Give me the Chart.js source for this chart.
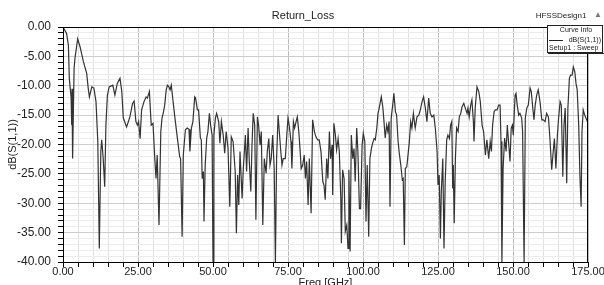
<!DOCTYPE html>
<html>
<head>
<meta charset="utf-8">
<script src="https://cdn.jsdelivr.net/npm/chart.js@4.4.1/dist/chart.umd.min.js"></script>
<style>
  html, body { margin: 0; padding: 0; background: #fff; }
</style>
</head>
<body>
<canvas id="rlChart" width="604" height="285"></canvas>
<script>
// frequency points (GHz)
const freqGHz = [
  0, 1.2, 1.8, 2.1, 2.4, 2.7, 2.9, 3.0, 3.2, 3.7, 4.0, 4.9, 5.7, 6.8, 7.9, 8.4, 8.8, 9.6, 10.3, 11.0,
  11.6, 12.1, 12.6, 12.9, 13.4, 13.9, 14.3, 14.8, 15.4, 16.6, 17.3, 18.1, 19.0, 19.6, 20.1, 21.2, 22.3, 23.2, 23.7, 24.3,
  24.8, 25.2, 25.7, 26.2, 27.0, 27.7, 28.1, 28.8,
  29.4, 30.0, 30.6, 31.0, 31.4, 32.0, 32.6, 33.0, 33.4, 33.9, 34.4, 34.8, 35.3, 35.7, 36.1, 36.7, 37.2, 38.0, 38.9, 39.2,
  39.7, 40.1, 40.8, 41.4, 42.0, 42.3, 42.8, 43.3, 43.9, 44.2, 44.8, 45.2, 45.8, 46.1, 46.4, 46.8, 47.0, 47.4, 47.9, 48.3,
  48.8, 49.2, 49.7, 50.0, 50.3, 50.8, 51.2, 51.9, 52.3, 52.8, 53.4, 53.9, 54.4, 55.0, 55.6, 56.1, 56.7, 57.4, 57.8,
  58.2, 58.6, 59.0, 59.7, 60.1, 60.8, 61.2, 61.7, 62.1, 62.6, 63.0, 63.4, 63.9, 64.3, 64.8, 65.2, 65.7, 66.1, 66.6, 67.1,
  67.7, 68.1, 68.6, 69.0, 69.4, 69.9, 70.4, 70.8, 71.2, 71.7, 72.1, 72.6, 73.0, 73.4, 74.1, 74.6, 75.0, 75.4, 76.0, 76.3,
  76.8, 77.2, 77.7, 78.1, 78.6, 79.0, 79.4, 79.9, 80.4, 80.8, 81.2, 81.7, 82.1, 82.7, 83.2, 83.8, 84.3, 84.9, 85.4, 86.0,
  86.6,
  87.0, 87.4, 87.9, 88.3, 88.8, 89.2, 89.7, 89.9, 90.3, 90.8, 91.2, 91.7, 92.1, 92.6, 92.8, 93.2, 93.7, 94.1, 94.6, 95.0,
  95.3, 95.7, 96.1, 96.6, 97.0, 97.4, 97.9, 98.3, 98.8, 99.2, 99.7, 100.1, 100.6, 101.0, 101.4, 101.9, 102.3, 102.8, 103.2, 103.7,
  104.1, 104.6, 105.0, 105.4, 106.1, 106.6, 107.0, 107.4, 107.9, 108.3, 108.7, 109.0, 109.4, 109.9, 110.3, 110.8, 111.2, 111.7, 112.1, 112.6,
  113.1, 113.4, 113.8, 114.1, 114.6, 115.0, 115.4, 115.9, 116.3, 116.8,
  117.4, 118.0, 118.6, 119.1, 119.7, 120.2, 120.8, 121.3, 121.9, 122.4, 123.0, 123.6, 124.1, 124.7, 125.0, 125.4, 125.8, 126.1, 126.6, 127.0,
  127.4, 127.9, 128.3, 128.8, 129.2, 129.6, 129.9, 130.1, 130.4, 130.8, 131.2, 131.7, 132.1, 132.6, 133.0, 133.6, 134.1, 134.7, 135.0, 135.4,
  135.9, 136.3, 136.8, 137.0, 137.4, 138.0, 138.6, 139.1, 139.7, 140.2, 140.8, 141.3, 141.9, 142.4, 142.8, 143.2, 143.7, 144.1, 144.7, 145.2,
  145.7, 146.0, 146.3, 146.7, 147.2, 147.7, 148.1, 148.6, 149.0, 149.4, 149.8, 150.1, 150.7, 151.0, 151.4, 151.9, 152.3, 152.9, 153.2, 153.7,
  154.1, 154.6, 155.1, 155.7, 156.1, 156.6, 157.0, 157.4, 157.9, 158.4, 159.0, 159.6, 160.1, 160.7, 161.2, 161.8, 162.3, 162.9, 163.4, 163.8,
  164.3, 164.8, 165.2, 165.7, 166.1, 166.6, 167.0, 167.4, 167.9, 168.3, 168.8, 169.2, 169.7, 170.1, 170.6, 171.0, 171.4, 171.9, 172.3, 172.7,
  173.0, 173.4, 173.9, 174.3, 174.8, 175.0
];

// dB(S(1,1)) at each frequency
const s11dB = [
  0, -1.1, -3.1, -8.7, -10.4, -12.0, -16.7, -10.5, -22.4, -7.0, -5.3, -2.0, -3.4, -5.9, -7.9, -10.4, -11.9, -10.2, -10.4, -12.7,
  -19.5, -37.7, -21.2, -19.2, -22.4, -27.2, -16.7, -11.6, -10.2, -9.9, -11.6, -9.6, -8.7, -11.0, -15.5, -17.0, -15.3, -13.0, -12.6, -16.1,
  -16.7, -16.1, -19.0, -14.1, -12.7, -11.9, -12.1, -11.0,
  -16.7, -16.4, -22.4, -25.8, -21.8, -33.7, -17.8, -15.5, -14.7, -13.3, -10.7, -9.9, -10.2, -10.7, -9.9, -12.7, -15.0, -18.4, -22.1, -22.4,
  -35.7, -21.8, -17.5, -17.2, -17.4, -21.2, -17.2, -16.1, -11.9, -12.1, -14.1, -14.1, -18.9, -19.2, -25.8, -24.6, -33.1, -23.5, -18.9, -17.8,
  -14.7, -16.7, -18.4, -40, -18.4, -15.5, -14.7, -16.1, -19.8, -16.1, -18.4, -21.5, -17.8, -20.6, -30.6, -18.7, -19.5, -24.6, -35.1,
  -25.2, -30.3, -21.2, -29.2, -24.1, -18.4, -24.6, -17.2, -22.9, -28.0, -20.1, -14.7, -16.7, -32.8, -15.3, -16.7, -20.1, -17.8, -33.7, -22.4,
  -24.9, -21.2, -19.0, -23.5, -22.4, -18.4, -24.1, -40, -22.4, -15.0, -17.8, -21.2, -23.5, -22.4, -22.4, -18.4, -15.5, -16.7, -19.5, -24.1,
  -16.1, -17.2, -16.1, -15.3, -17.8, -20.7, -24.1, -23.5, -21.8, -25.8, -22.9, -30.3, -22.4, -31.7, -15.8, -17.8, -18.7, -19.2, -19.2, -21.2,
  -26.3,
  -26.9, -29.4, -22.4, -25.8, -17.8, -22.4, -20.1, -28.6, -16.4, -18.4, -20.9, -19.0, -21.2, -29.2, -36.8, -24.3, -25.8, -34.8, -33.7, -37.7,
  -24.3, -38.2, -18.4, -22.4, -20.7, -26.3, -17.2, -21.2, -30.9, -30.9, -20.1, -18.1, -19.5, -33.1, -23.5, -35.7, -22.4, -20.7, -19.8, -19.0,
  -19.2, -17.2, -14.7, -13.8, -11.9, -13.6, -16.1, -18.9, -16.7, -17.8, -16.1, -30.6, -15.5, -13.3, -11.3, -14.4, -15.0, -19.5, -21.5, -23.5,
  -26.0, -25.8, -37.1, -24.1, -23.8, -21.8, -19.8, -16.1, -17.2, -14.7,
  -17.2, -15.3, -15.0, -14.1, -12.7, -11.9, -13.9, -16.1, -12.1, -14.7, -15.3, -15.0, -17.2, -21.2, -26.9, -25.2, -36.0, -28.0, -22.4, -37.7,
  -26.3, -19.2, -18.4, -19.0, -16.7, -16.1, -27.5, -23.5, -33.4, -22.4, -17.2, -17.8, -15.3, -14.7, -13.6, -13.0, -13.8, -14.7, -13.8, -15.3,
  -13.3, -12.4, -16.1, -19.5, -13.8, -10.2, -11.0, -12.7, -16.7, -17.8, -21.8, -19.2, -22.4, -19.5, -21.2, -16.7, -14.4, -14.1, -14.1, -13.3,
  -13.3, -19.5, -40, -24.1, -18.9, -21.2, -16.7, -20.1, -22.9, -17.2, -16.7, -18.4, -11.6, -11.3, -13.3, -15.0, -14.7, -15.5, -17.8, -40,
  -15.5, -13.8, -13.3, -10.4, -11.0, -13.8, -15.8, -13.3, -11.6, -10.7, -12.7, -15.8, -15.8, -16.1, -14.7, -15.3, -18.9, -24.3, -21.2, -19.0,
  -24.1, -18.4, -15.5, -12.7, -13.3, -25.5, -16.7, -13.8, -26.6, -13.8, -8.7, -8.2, -8.2, -6.8, -7.6, -9.6, -10.7, -16.7, -25.2, -30.6,
  -17.8, -14.1, -15.0, -15.5, -16.1, -15.3
];

// labelled ticks
const xTickLabels = [0, 25, 50, 75, 100, 125, 150, 175];
const yTickLabels = [0, -5, -10, -15, -20, -25, -30, -35, -40];

const FONT = '"Liberation Sans", Arial, sans-serif';

// titles, legend box and plot frame drawn on top
const hfssDecor = {
  id: 'hfssDecor',
  afterDraw(chart) {
    const { ctx, chartArea: a } = chart;
    ctx.save();

    // plot frame
    ctx.strokeStyle = '#000';
    ctx.lineWidth = 1;
    ctx.strokeRect(Math.round(a.left) + 0.5, Math.round(a.top) + 0.5,
      Math.round(a.right - a.left) - 1, Math.round(a.bottom - a.top));

    ctx.fillStyle = '#222';
    ctx.textBaseline = 'middle';

    ctx.font = '11px ' + FONT;
    ctx.textAlign = 'center';
    ctx.fillText('Return_Loss', 303, 16);

    ctx.textBaseline = 'alphabetic';
    ctx.fillText('Freq [GHz]', (a.left + a.right) / 2, 286);

    ctx.save();
    ctx.translate(13, (a.top + a.bottom) / 2);
    ctx.rotate(-Math.PI / 2);
    ctx.textBaseline = 'middle';
    ctx.fillText('dB(S(1,1))', 0, 0);
    ctx.restore();

    ctx.textBaseline = 'middle';
    ctx.font = '8px ' + FONT;
    ctx.fillText('HFSSDesign1', 561, 16);
    ctx.fillStyle = '#777';
    ctx.fillText('\u25B2', 598, 15);

    // curve info box
    ctx.fillStyle = '#fff';
    ctx.fillRect(547, 25, 56, 27);
    ctx.strokeStyle = '#222';
    ctx.strokeRect(547.5, 25.5, 55, 27);
    ctx.beginPath();
    ctx.moveTo(548, 53.5); ctx.lineTo(604, 53.5);
    ctx.stroke();

    ctx.fillStyle = '#222';
    ctx.font = '7px ' + FONT;
    ctx.textAlign = 'center';
    ctx.fillText('Curve Info', 576, 30);
    ctx.beginPath();
    ctx.moveTo(549, 40.5); ctx.lineTo(563, 40.5);
    ctx.stroke();
    ctx.textAlign = 'right';
    ctx.fillText('dB(S(1,1))', 601, 40);
    ctx.textAlign = 'left';
    ctx.fillText('Setup1 : Sweep', 549, 48);

    ctx.restore();
  }
};

const ctx = document.getElementById('rlChart').getContext('2d');

new Chart(ctx, {
  type: 'line',
  data: {
    datasets: [{
      label: 'dB(S(1,1))',
      data: freqGHz.map((f, i) => ({ x: f, y: s11dB[i] })),
      borderColor: '#333',
      borderWidth: 1.2,
      pointRadius: 0,
      tension: 0,
      fill: false
    }]
  },
  options: {
    responsive: false,
    animation: false,
    devicePixelRatio: 1,
    layout: { padding: { top: 27, right: 16, bottom: 0, left: 0 } },
    plugins: {
      legend: { display: false },
      tooltip: { enabled: false },
      title: { display: false }
    },
    scales: {
      x: {
        type: 'linear',
        min: 0,
        max: 175,
        afterFit(scale) {
          scale.height = 23;
          scale.paddingLeft = 0;
          scale.paddingRight = 0;
        },
        border: { display: false },
        grid: {
          color: (c) => xTickLabels.includes(c.tick.value) ? '#bdbdbd' : '#e2e2e2',
          tickColor: '#000',
          tickLength: 5
        },
        ticks: {
          stepSize: 5,
          autoSkip: false,
          maxRotation: 0,
          padding: -2,
          color: '#222',
          font: { family: FONT, size: 11 },
          callback: (v) => xTickLabels.includes(v) ? v.toFixed(2) : ''
        }
      },
      y: {
        min: -40,
        max: 0,
        afterFit(scale) {
          scale.width = 63;
          scale.paddingTop = 0;
          scale.paddingBottom = 0;
        },
        border: { display: false },
        grid: {
          color: (c) => yTickLabels.includes(c.tick.value) ? '#cdcdcd' : '#ececec',
          tickColor: '#000',
          tickLength: 5
        },
        ticks: {
          stepSize: 1,
          autoSkip: false,
          padding: 7,
          color: '#222',
          font: { family: FONT, size: 12 },
          callback: (v) => yTickLabels.includes(v) ? v.toFixed(2) : ''
        }
      }
    }
  },
  plugins: [hfssDecor]
});
</script>
</body>
</html>
